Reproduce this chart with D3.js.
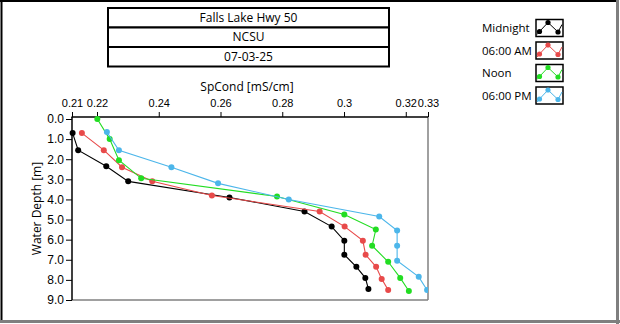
<!DOCTYPE html>
<html>
<head>
<meta charset="utf-8">
<script src="https://cdn.jsdelivr.net/npm/d3@7"></script>
<style>
  html, body { margin: 0; padding: 0; background: #fff; }
  svg { display: block; font-family: "Open Sans", "Noto Sans", sans-serif; }
</style>
</head>
<body>
<svg id="chart" width="620" height="324"></svg>
<script>
// Header lines
const headerLines = ["Falls Lake Hwy 50", "NCSU", "07-03-25"];

// Profiles: specific conductance [mS/cm] vs. water depth [m]
const seriesNames = ["Midnight", "06:00 AM", "Noon", "06:00 PM"];
const seriesColors = ["#000000", "#e84a4a", "#22dd22", "#4cb6ea"];

const midnightDepth  = [0.7, 1.55, 2.35, 3.1, 3.9, 4.6, 5.35, 6.05, 6.75, 7.35, 7.9, 8.45];
const midnightSpCond = [0.2121, 0.2139, 0.2230, 0.2301, 0.2629, 0.2872, 0.2960, 0.3001, 0.3001, 0.3040, 0.3069, 0.3079];

const morningDepth  = [0.7, 1.55, 2.4, 3.1, 3.8, 4.6, 5.35, 6.05, 6.75, 7.35, 7.95, 8.5];
const morningSpCond = [0.2151, 0.2222, 0.2281, 0.2379, 0.2572, 0.2921, 0.3002, 0.3061, 0.3070, 0.3104, 0.3122, 0.3143];

const noonDepth  = [0.0, 1.0, 2.05, 2.95, 3.85, 4.75, 5.5, 6.3, 7.1, 7.9, 8.55];
const noonSpCond = [0.2201, 0.2241, 0.2271, 0.2343, 0.2783, 0.3001, 0.3103, 0.3091, 0.3143, 0.3182, 0.3210];

const eveningDepth  = [0.65, 1.55, 2.4, 3.2, 4.0, 4.85, 5.55, 6.3, 7.05, 7.85, 8.5];
const eveningSpCond = [0.2232, 0.2271, 0.2441, 0.2592, 0.2821, 0.3114, 0.3172, 0.3172, 0.3172, 0.3242, 0.3269];

// Axes
const xDomain = [0.2119, 0.3272];
const xTickValues = [0.2119, 0.22, 0.24, 0.26, 0.28, 0.30, 0.32, 0.3272];
const xTickLabels = ["0.21", "0.22", "0.24", "0.26", "0.28", "0.3", "0.32", "0.33"];
const yDomain = [-0.1, 9.0];
const yTickValues = [0, 1, 2, 3, 4, 5, 6, 7, 8, 9];
const yTickLabels = ["0.0", "1.0", "2.0", "3.0", "4.0", "5.0", "6.0", "7.0", "8.0", "9.0"];
const xTitle = "SpCond [mS/cm]";
const yTitle = "Water Depth [m]";

const series = [
  { depth: midnightDepth, value: midnightSpCond },
  { depth: morningDepth,  value: morningSpCond },
  { depth: noonDepth,     value: noonSpCond },
  { depth: eveningDepth,  value: eveningSpCond }
].map((s, i) => ({
  name: seriesNames[i],
  color: seriesColors[i],
  points: s.depth.map((d, j) => ({ depth: d, value: s.value[j] }))
}));

const svg = d3.select("#chart");
const W = 620, H = 324;

// Panel frame: dark top/left edges, grey bottom/right edges
svg.append("rect").attr("x", 0).attr("y", 0).attr("width", W).attr("height", H).attr("fill", "#fff");
svg.append("line").attr("x1", 0).attr("x2", W - 3).attr("y1", 1).attr("y2", 1).attr("stroke", "#000").attr("stroke-width", 2);
svg.append("line").attr("x1", 1.5).attr("x2", 1.5).attr("y1", 0).attr("y2", H - 3).attr("stroke", "#000").attr("stroke-width", 2);
svg.append("line").attr("x1", W - 2.5).attr("x2", W - 2.5).attr("y1", 0).attr("y2", H).attr("stroke", "#7f7f7f").attr("stroke-width", 3);
svg.append("line").attr("x1", 0).attr("x2", W).attr("y1", H - 2.5).attr("y2", H - 2.5).attr("stroke", "#7f7f7f").attr("stroke-width", 3);

// Header boxes
const box = { x: 108, w: 281, top: 8, h: 19.5 };
const header = svg.append("g");
headerLines.forEach((t, i) => {
  const y0 = box.top + i * box.h;
  header.append("rect")
    .attr("x", box.x).attr("y", y0).attr("width", box.w).attr("height", box.h)
    .attr("fill", "#fff").attr("stroke", "#000").attr("stroke-width", 2);
  header.append("text")
    .attr("x", box.x + box.w / 2).attr("y", y0 + box.h / 2)
    .attr("dy", "0.35em").attr("text-anchor", "middle")
    .attr("font-size", 12).attr("fill", "#000").text(t);
});

// Plot area
const plot = { left: 72, right: 428, top: 117, bottom: 300 };
const x = d3.scaleLinear().domain(xDomain).range([plot.left, plot.right]);
const y = d3.scaleLinear().domain(yDomain).range([plot.top, plot.bottom]);

const xAxis = d3.axisTop(x).tickValues(xTickValues).tickSize(5).tickSizeOuter(0)
  .tickFormat((d, i) => xTickLabels[i]);
const yAxis = d3.axisLeft(y).tickValues(yTickValues).tickSize(6).tickSizeOuter(0)
  .tickFormat((d, i) => yTickLabels[i]);

const gx = svg.append("g").attr("transform", `translate(0,${plot.top})`).call(xAxis);
gx.select(".domain").remove();
gx.selectAll(".tick line").attr("stroke", "#000");
gx.selectAll(".tick text").attr("font-size", 11).attr("font-family", null).attr("fill", "#000").attr("dy", "-0.15em");

const gy = svg.append("g").attr("transform", `translate(${plot.left},0)`).call(yAxis);
gy.select(".domain").remove();
gy.selectAll(".tick line").attr("stroke", "#000");
gy.selectAll(".tick text").attr("font-size", 12).attr("font-family", null).attr("fill", "#000").attr("x", -8);

// Plot border
svg.append("line").attr("x1", plot.left).attr("x2", plot.right).attr("y1", plot.bottom).attr("y2", plot.bottom)
  .attr("stroke", "#808080").attr("stroke-width", 1.5);
svg.append("line").attr("x1", plot.right).attr("x2", plot.right).attr("y1", plot.top).attr("y2", plot.bottom)
  .attr("stroke", "#808080").attr("stroke-width", 1.5);
svg.append("line").attr("x1", plot.left - 0.5).attr("x2", plot.right).attr("y1", plot.top).attr("y2", plot.top)
  .attr("stroke", "#000").attr("stroke-width", 1.5);
svg.append("line").attr("x1", plot.left).attr("x2", plot.left).attr("y1", plot.top).attr("y2", plot.bottom)
  .attr("stroke", "#000").attr("stroke-width", 1.5);

// Axis titles
svg.append("text").attr("x", (plot.left + plot.right) / 2 - 3).attr("y", 87).attr("dy", "0.35em")
  .attr("text-anchor", "middle").attr("font-size", 12).text(xTitle);
svg.append("text").attr("transform", `translate(37,${(plot.top + plot.bottom) / 2}) rotate(-90)`)
  .attr("dy", "0.35em").attr("text-anchor", "middle").attr("font-size", 12).text(yTitle);

// Profiles
const line = d3.line().x(d => x(d.value)).y(d => y(d.depth));
svg.append("clipPath").attr("id", "plot-clip").append("rect")
  .attr("x", plot.left - 4).attr("y", plot.top - 4)
  .attr("width", plot.right - plot.left + 4).attr("height", plot.bottom - plot.top + 4);
const layer = svg.append("g").attr("clip-path", "url(#plot-clip)");
series.forEach(s => {
  layer.append("path").datum(s.points).attr("d", line)
    .attr("fill", "none").attr("stroke", s.color).attr("stroke-width", 1.1);
  layer.selectAll(null).data(s.points).join("circle")
    .attr("cx", d => x(d.value)).attr("cy", d => y(d.depth)).attr("r", 3)
    .attr("fill", s.color);
});

// Legend
const legend = svg.append("g");
const rowY = [28, 50.5, 73, 95.5];
const iconPts = [[1, 15], [3.5, 12], [12, 3], [22, 12.5], [26, 5]];
seriesNames.forEach((name, i) => {
  const g = legend.append("g").attr("transform", `translate(0,${rowY[i]})`);
  g.append("text").attr("x", 482).attr("y", 0).attr("dy", "0.35em")
    .attr("font-size", 11.5).attr("fill", "#000").text(name);
  const ig = g.append("g").attr("transform", "translate(536,-8.5)");
  ig.append("rect").attr("width", 27).attr("height", 17)
    .attr("fill", "#fff").attr("stroke", "#000").attr("stroke-width", 1.5);
  ig.append("polyline").attr("points", iconPts.map(p => p.join(",")).join(" "))
    .attr("fill", "none").attr("stroke", seriesColors[i]).attr("stroke-width", 1);
  iconPts.slice(1, 4).forEach(p => {
    ig.append("circle").attr("cx", p[0]).attr("cy", p[1]).attr("r", 2.6).attr("fill", seriesColors[i]);
  });
});
</script>
</body>
</html>
